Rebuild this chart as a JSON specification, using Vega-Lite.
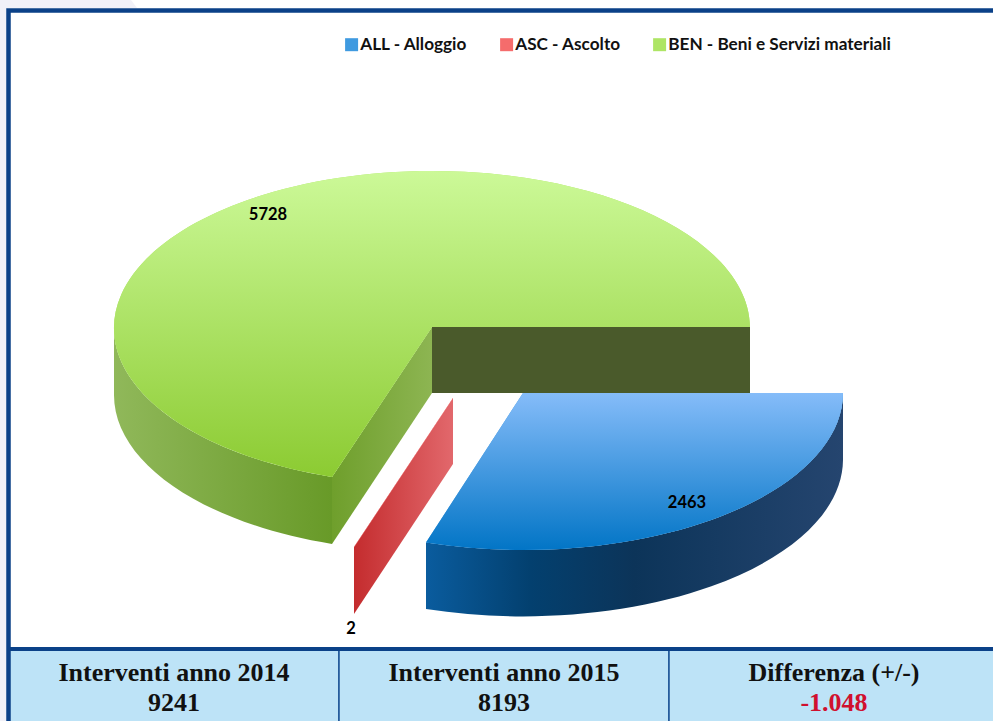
{
"$schema":"https://vega.github.io/schema/vega-lite/v6.json",
"width":993,"height":721,"padding":0,
"autosize":{"type":"fit","contains":"padding"},
"background":"white",
"config":{"view":{"stroke":null}},
"data":{"values":[
{"categoria":"ALL - Alloggio","interventi":2463},
{"categoria":"ASC - Ascolto","interventi":2},
{"categoria":"BEN - Beni e Servizi materiali","interventi":5728}
]},
"resolve":{"scale":{"shape":"independent"}},
"layer":[
{"data":{"values":[{"parte":"sfondo"}]},
 "mark":{"type":"point","filled":true,"opacity":1,"size":4,"color":"#f1f1f8"},
 "encoding":{"x":{"value":0},"y":{"value":0},"shape":{"value":"M0 0 L131 0 L137 8 L8 8 L8 721 L0 721 Z"}}},
{"data":{"values":[{"colonna":"Interventi anno 2014","valore":"9241"},{"colonna":"Interventi anno 2015","valore":"8193"},{"colonna":"Differenza (+/-)","valore":"-1.048"}]},
 "mark":{"type":"rect","fill":"#bde3f7","stroke":"#1c5496","strokeWidth":1.5},
 "encoding":{"x":{"field":"colonna","type":"nominal","axis":null,"sort":null,"scale":{"domain":["Interventi anno 2014","Interventi anno 2015","Differenza (+/-)"],"range":[9,999],"paddingInner":0,"paddingOuter":0}},"y":{"value":649},"y2":{"value":740}}},
{"data":{"values":[{"parte":"cornice"}]},
 "mark":{"type":"rect","fill":null,"stroke":"#0b4188","strokeWidth":4.5},
 "encoding":{"x":{"value":8.5},"x2":{"value":1010},"y":{"value":10.5},"y2":{"value":800}}},
{"data":{"values":[{"parte":"linea"}]},
 "mark":{"type":"rule","stroke":"#0b4188","strokeWidth":4},
 "encoding":{"x":{"value":8},"x2":{"value":1010},"y":{"value":649}}},
{"data":{"values":[{"colonna":"Interventi anno 2014","valore":"9241"},{"colonna":"Interventi anno 2015","valore":"8193"},{"colonna":"Differenza (+/-)","valore":"-1.048"}]},
 "mark":{"type":"text","font":"Liberation Serif","fontWeight":"bold","fontSize":26,"fill":"#111111","baseline":"alphabetic"},
 "encoding":{"x":{"field":"colonna","type":"nominal","axis":null,"sort":null,"bandPosition":0.5},"y":{"value":681},"text":{"field":"colonna"}}},
{"data":{"values":[{"colonna":"Interventi anno 2014","valore":"9241"},{"colonna":"Interventi anno 2015","valore":"8193"},{"colonna":"Differenza (+/-)","valore":"-1.048"}]},
 "mark":{"type":"text","font":"Liberation Serif","fontWeight":"bold","fontSize":26,"baseline":"alphabetic"},
 "encoding":{"x":{"field":"colonna","type":"nominal","axis":null,"sort":null,"bandPosition":0.5},"y":{"value":711},"text":{"field":"valore"},
  "fill":{"condition":{"test":"toNumber(datum.valore)<0","value":"#d0102e"},"value":"#111111"}}},
{"transform":[{"filter":"datum.categoria==='BEN - Beni e Servizi materiali'"}],
 "mark":{"type":"point","filled":true,"opacity":1,"size":4,"color":"#4a5a2b"},
 "encoding":{"x":{"value":0},"y":{"value":0},"shape":{"value":"M432 327 L750 327 L750 393 L432 393 Z"}}},
{"transform":[{"filter":"datum.categoria==='BEN - Beni e Servizi materiali'"}],
 "mark":{"type":"point","filled":true,"opacity":1,"size":4,"color":{"gradient":"linear","x1":0,"y1":0,"x2":1,"y2":0,"stops":[{"offset":0,"color":"#6f9f2c"},{"offset":1,"color":"#8db552"}]}},
 "encoding":{"x":{"value":0},"y":{"value":0},"shape":{"value":"M432 327 L432 393 L332 544 L332 477 Z"}}},
{"transform":[{"filter":"datum.categoria==='BEN - Beni e Servizi materiali'"}],
 "mark":{"type":"point","filled":true,"opacity":1,"size":4,"color":{"gradient":"linear","x1":0,"y1":0,"x2":1,"y2":0,"stops":[{"offset":0,"color":"#90b85a"},{"offset":1,"color":"#689a28"}]}},
 "encoding":{"x":{"value":0},"y":{"value":0},"shape":{"value":"M114 327 A318 157 0 0 0 332 477 L332 544 A318 157 0 0 1 114 394 Z"}}},
{"transform":[{"filter":"datum.categoria==='ASC - Ascolto'"}],
 "mark":{"type":"point","filled":true,"opacity":1,"size":4,"color":{"gradient":"linear","x1":0,"y1":0,"x2":1,"y2":0,"stops":[{"offset":0,"color":"#c42c2e"},{"offset":1,"color":"#e2686c"}]}},
 "encoding":{"x":{"value":0},"y":{"value":0},"shape":{"value":"M453 398 L453 464 L354 614 L354 547 Z"}}},
{"transform":[{"filter":"datum.categoria==='ALL - Alloggio'"}],
 "mark":{"type":"point","filled":true,"opacity":1,"size":4,"color":{"gradient":"linear","x1":0,"y1":0,"x2":1,"y2":0,"stops":[{"offset":0,"color":"#0a5c9e"},{"offset":0.25,"color":"#03406f"},{"offset":0.5,"color":"#0c3459"},{"offset":1,"color":"#25456f"}]}},
 "encoding":{"x":{"value":0},"y":{"value":0},"shape":{"value":"M843 393 A320 157 0 0 1 426 542.5 L426 609 A320 157 0 0 0 843 460 Z"}}},
{"mark":{"type":"point","filled":true,"opacity":1,"size":4},
 "encoding":{"x":{"value":0},"y":{"value":0},
  "shape":{"field":"categoria","type":"nominal","legend":null,"scale":{"domain":["ALL - Alloggio","ASC - Ascolto","BEN - Beni e Servizi materiali"],"range":[
    "M523 393 L843 393 A320 157 0 0 1 426 542.5 Z",
    "M453 398 L453 398.5 L354 547.5 L354 547 Z",
    "M432 327 L750 327 A318 157 0 1 0 332 477 Z"]}},
  "color":{"field":"categoria","type":"nominal","scale":{"domain":["ALL - Alloggio","ASC - Ascolto","BEN - Beni e Servizi materiali"],"range":["#3f9ae0","#f56c6c","#aee565"]},
   "legend":{"title":null,"orient":"none","legendX":343,"legendY":36,"direction":"horizontal","columns":3,"symbolType":"square","symbolSize":169,"labelFont":"Lato","labelFontWeight":"bold","labelFontSize":17.2,"labelLimit":400,"labelColor":"#111111","columnPadding":30,"labelOffset":0,"symbolStrokeWidth":0,
    "encoding":{"symbols":{"fill":{"signal":"{gradient:'linear',x1:0,y1:0,x2:0,y2:1,stops:datum.value==='ALL - Alloggio'?[{offset:0,color:'#85bcf9'},{offset:1,color:'#0275c6'}]:datum.value==='ASC - Ascolto'?[{offset:0,color:'#ff9c9c'},{offset:1,color:'#ee3b3b'}]:[{offset:0,color:'#ccf998'},{offset:1,color:'#8ccb32'}]}"}}}}}}},
{"transform":[{"filter":"datum.categoria==='ALL - Alloggio'"}],
 "mark":{"type":"point","filled":true,"opacity":1,"size":4,"color":{"gradient":"linear","x1":0,"y1":0,"x2":0,"y2":1,"stops":[{"offset":0,"color":"#85bcf9"},{"offset":1,"color":"#0275c6"}]}},
 "encoding":{"x":{"value":0},"y":{"value":0},"shape":{"value":"M523 393 L843 393 A320 157 0 0 1 426 542.5 Z"}}},
{"transform":[{"filter":"datum.categoria==='BEN - Beni e Servizi materiali'"}],
 "mark":{"type":"point","filled":true,"opacity":1,"size":4,"color":{"gradient":"linear","x1":0,"y1":0,"x2":0,"y2":1,"stops":[{"offset":0,"color":"#ccf998"},{"offset":1,"color":"#8ccb32"}]}},
 "encoding":{"x":{"value":0},"y":{"value":0},"shape":{"value":"M432 327 L750 327 A318 157 0 1 0 332 477 Z"}}},
{"transform":[{"filter":"datum.categoria==='BEN - Beni e Servizi materiali'"}],
 "mark":{"type":"text","font":"Lato","fontWeight":"bold","fontSize":16.5,"fill":"#000000"},
 "encoding":{"x":{"value":268},"y":{"value":215},"text":{"field":"interventi"}}},
{"transform":[{"filter":"datum.categoria==='ALL - Alloggio'"}],
 "mark":{"type":"text","font":"Lato","fontWeight":"bold","fontSize":16.5,"fill":"#000000"},
 "encoding":{"x":{"value":687},"y":{"value":503},"text":{"field":"interventi"}}},
{"transform":[{"filter":"datum.categoria==='ASC - Ascolto'"}],
 "mark":{"type":"text","font":"Lato","fontWeight":"bold","fontSize":16.5,"fill":"#000000"},
 "encoding":{"x":{"value":351},"y":{"value":629},"text":{"field":"interventi"}}}
]
}
